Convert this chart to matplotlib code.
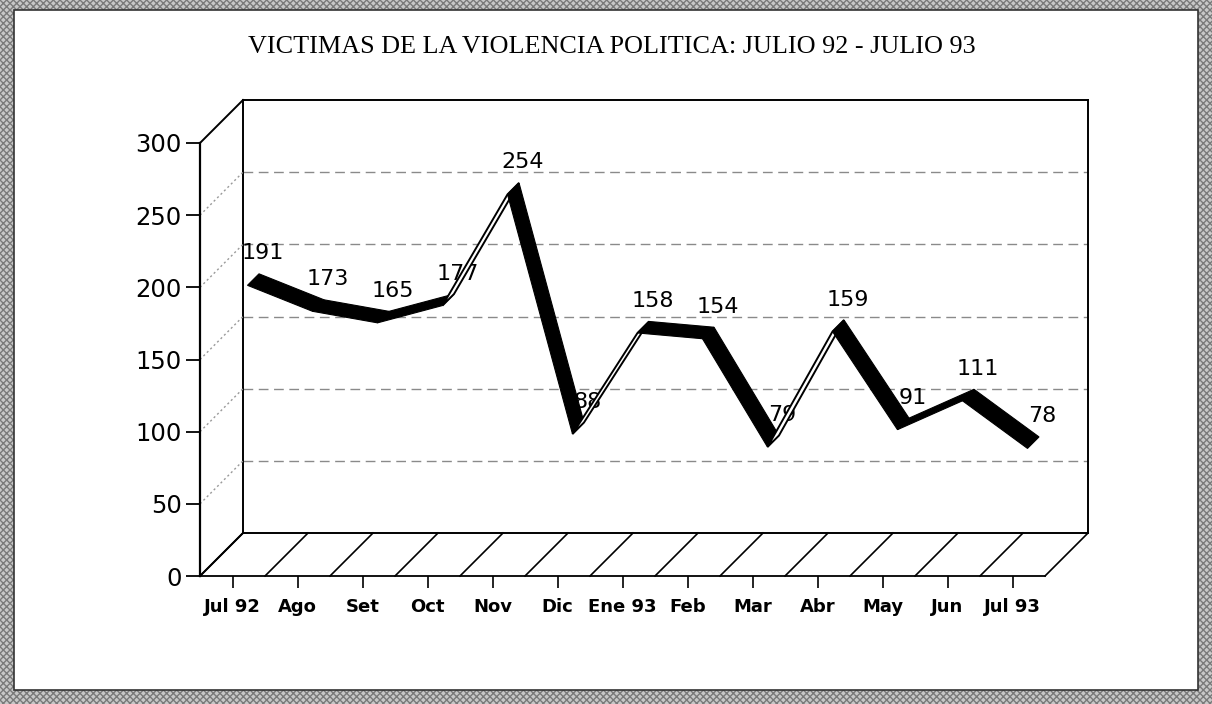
import matplotlib
matplotlib.use('Agg')
import matplotlib.pyplot as plt
from matplotlib.patches import Polygon, Rectangle
from matplotlib.lines import Line2D
from matplotlib.transforms import IdentityTransform

months = ["Jul 92", "Ago", "Set", "Oct", "Nov", "Dic", "Ene 93", "Feb",
          "Mar", "Abr", "May", "Jun", "Jul 93"]
victims = [191, 173, 165, 177, 254, 88, 158, 154, 79, 159, 91, 111, 78]
y_ticks = [0, 50, 100, 150, 200, 250, 300]
title = "VICTIMAS DE LA VIOLENCIA POLITICA: JULIO 92 - JULIO 93"

W, H = 1212, 704
fig = plt.figure(figsize=(W / 100, H / 100), dpi=100)
fig.patch.set_facecolor('#b4b4b4')
fig.patches.append(Rectangle((0, 0), 1, 1, transform=fig.transFigure,
                             facecolor='#c8c8c8', hatch='xxxxx', edgecolor='#7a7a7a',
                             lw=0, zorder=-10))
fig.patches.append(Rectangle((14 / W, 14 / H), 1184 / W, 680 / H, transform=fig.transFigure,
                             facecolor='white', edgecolor='#333333', lw=1.2, zorder=-9))

ax = fig.add_axes([200 / W, (H - 576) / H, 845 / W, (576 - 143) / H])
ax.set_facecolor('none')
ax.set_xlim(-0.5, len(months) - 0.5)
ax.set_ylim(0, 300)
for s in ['top', 'right']:
    ax.spines[s].set_visible(False)
ax.spines['left'].set_linewidth(1.6)
ax.spines['bottom'].set_linewidth(1.3)
ax.set_xticks(range(len(months)))
ax.set_xticklabels(months, fontweight='bold', fontsize=13, family='DejaVu Sans')
ax.set_yticks(y_ticks)
ax.set_yticklabels([str(t) for t in y_ticks], fontsize=17.5, family='DejaVu Sans')
ax.tick_params(axis='x', length=8.6, width=1.2, pad=7, direction='out')
ax.tick_params(axis='y', length=10, width=1.3, pad=3, direction='out')

D = 43  # depth in pixels


def disp(x, y, dx=0.0, dy=0.0):
    p = ax.transData.transform((x, y))
    return (p[0] + dx, p[1] + dy)


def seg(p, q, **kw):
    ln = Line2D([p[0], q[0]], [p[1], q[1]], transform=IdentityTransform(), clip_on=False, **kw)
    ax.add_artist(ln)


x0, x1 = -0.5, len(months) - 0.5
# back wall gridlines
for v in y_ticks[1:-1]:
    seg(disp(x0, v, D, D), disp(x1, v, D, D), color='#8a8a8a', lw=1.0, ls=(0, (7, 4)))
# back wall frame
corners = [disp(x0, 0, D, D), disp(x0, 300, D, D), disp(x1, 300, D, D), disp(x1, 0, D, D), disp(x0, 0, D, D)]
for a, b in zip(corners[:-1], corners[1:]):
    seg(a, b, color='black', lw=1.4)
# left side wall
for v in y_ticks:
    if v in (0, 300):
        seg(disp(x0, v), disp(x0, v, D, D), color='black', lw=1.4)
    else:
        seg(disp(x0, v), disp(x0, v, D, D), color='#9a9a9a', lw=1.0, ls=(0, (1.5, 2)))
# floor
for k in range(len(months) + 1):
    seg(disp(k - 0.5, 0), disp(k - 0.5, 0, D, D), color='black', lw=1.2)

# data labels
for i, v in enumerate(victims):
    ax.annotate(str(v), (i, v), xytext=(30, 47), textcoords='offset pixels',
                ha='center', va='center', fontsize=16, family='DejaVu Sans',
                zorder=4, annotation_clip=False)

# ribbon line
d0, th = 15, 11.5
for i in range(len(victims) - 1):
    p0 = disp(i, victims[i], d0, d0)
    p1 = disp(i + 1, victims[i + 1], d0, d0)
    q1 = (p1[0] + th, p1[1] + th)
    q0 = (p0[0] + th, p0[1] + th)
    sx, sy = p1[0] - p0[0], p1[1] - p0[1]
    if sy < sx:
        poly = Polygon([p0, p1, q1, q0], closed=True, facecolor='black', edgecolor='black',
                       lw=0.8, transform=IdentityTransform(), clip_on=False, zorder=5)
    else:
        poly = Polygon([p0, p1, q1, q0], closed=True, facecolor='white', edgecolor='black',
                       lw=1.4, transform=IdentityTransform(), clip_on=False, zorder=5)
    ax.add_artist(poly)

fig.text(612 / W, 1 - 47 / H, title, family='Liberation Serif', fontsize=18.8,
         ha='center', va='center', zorder=3)

fig.savefig('out.png', dpi=100)
